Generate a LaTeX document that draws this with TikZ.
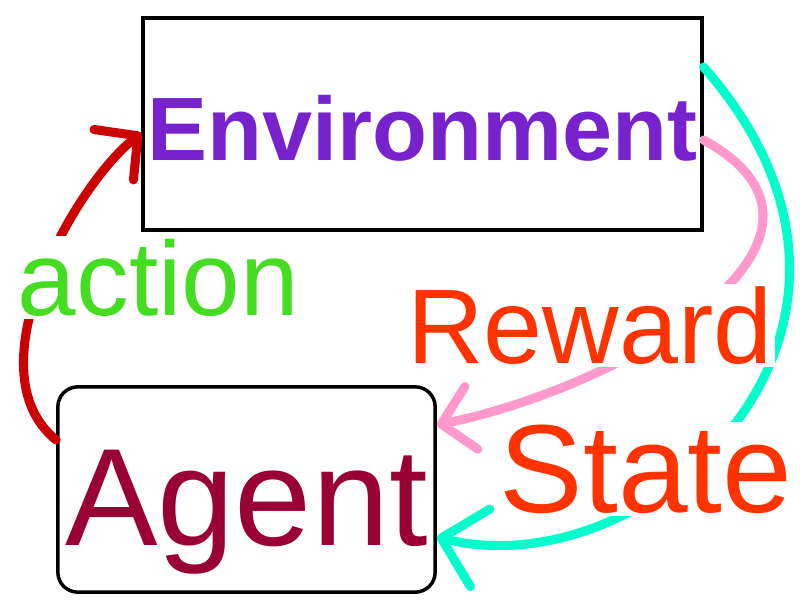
\documentclass[tikz,border=0pt]{standalone}
\usepackage{fontspec}
\setmainfont{Liberation Sans}
\usepackage{xcolor}
\usetikzlibrary{arrows.meta}
\definecolor{envc}{HTML}{7722CC}
\definecolor{agc}{HTML}{990033}
\definecolor{actc}{HTML}{44DD22}
\definecolor{txtc}{HTML}{FF3300}
\definecolor{redc}{HTML}{CC0000}
\definecolor{pinkc}{HTML}{FF99CC}
\definecolor{cyanc}{HTML}{00FFCC}

\begin{document}
\begin{tikzpicture}[
  x=0.75pt, y=-0.75pt,
  box/.style={draw, line width=2.6pt, text depth=0pt, inner sep=0pt},
  lbl/.style={fill=white, anchor=base, inner sep=2pt},
  arr/.style={line width=6.8pt, line cap=round, -{Straight Barb[length=23pt, width=48pt, round]}}]
  \useasboundingbox (0,0) rectangle (800,600);
  % --- boxes ---
  \node[box, minimum width=419pt, minimum height=159pt, text=envc, text height=55pt,
    font=\fontsize{67.5}{70}\selectfont\bfseries] (env) at (422.5,124) {Environment};
  \node[box, rounded corners=15pt, minimum width=283pt, minimum height=154pt, text=agc,
    text height=84pt, font=\fontsize{104}{110}\selectfont] (agent) at (246.5,489.5) {Agent};
  % --- loop ---
  \draw[arr, redc] (agent.west |- 0,440) .. controls (-30,370) and (75,185) .. (env.west |- 0,133);
  \draw[arr, pinkc] (env.east |- 0,140) .. controls (878,236) and (631,385) .. (agent.east |- 0,425);
  \draw[arr, cyanc, -{Straight Barb[length=30pt, width=60pt, round]}]
    (env.east |- 0,67) .. controls (935,330) and (648,590) .. (agent.east |- 0,537);
  % --- labels ---
  \node[lbl, text=actc, font=\fontsize{79}{80}\selectfont] (act) at (158.5,315) {action};
  \node[lbl, text=txtc, font=\fontsize{79.5}{80}\selectfont] (rew) at (590,363) {Reward};
  \node[lbl, text=txtc, font=\fontsize{94}{96}\selectfont] (st) at (646,512) {State};
\end{tikzpicture}
\end{document}
